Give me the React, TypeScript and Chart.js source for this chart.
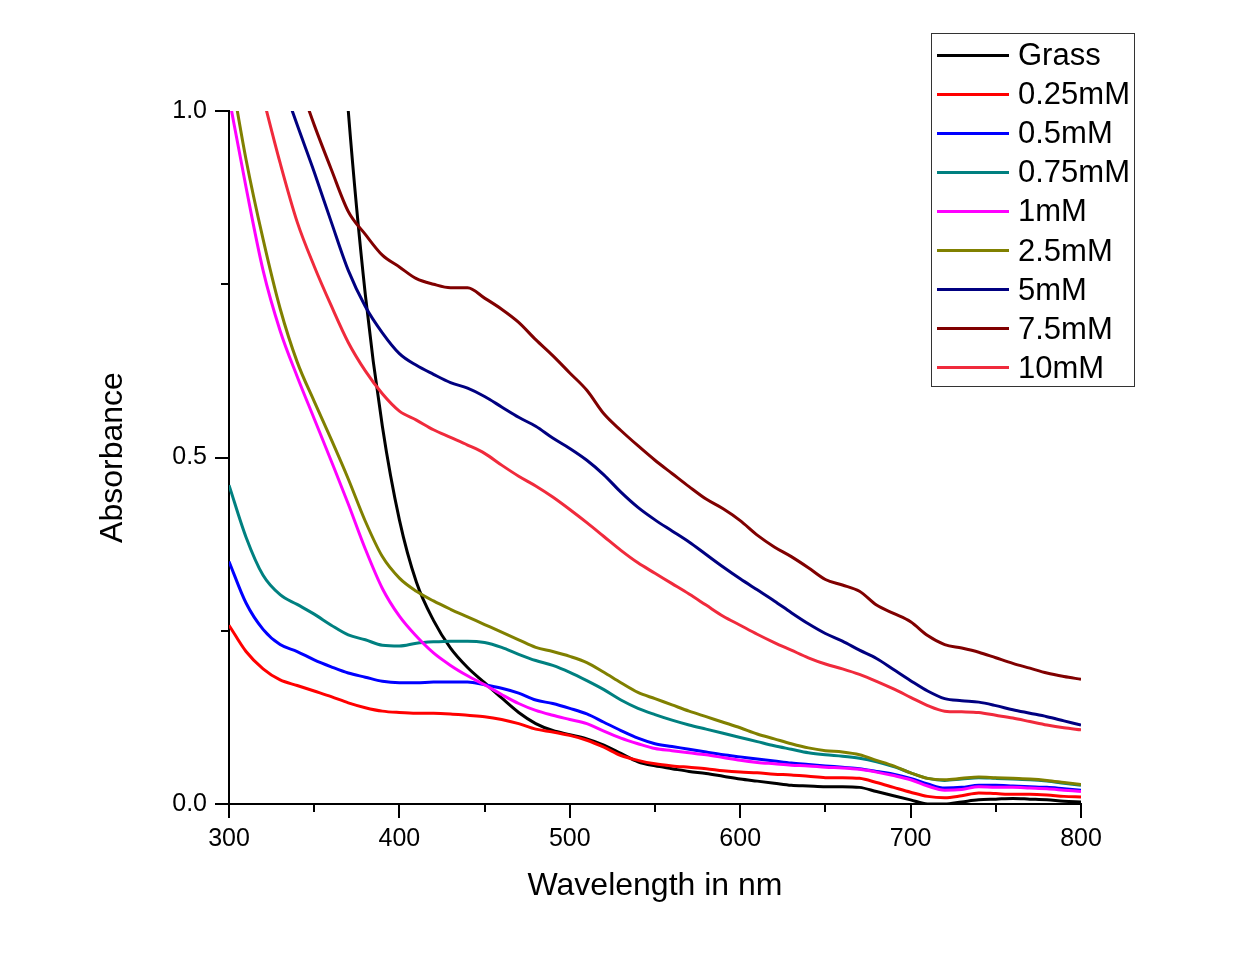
import React, { useEffect, useRef } from "react";
import { Chart, registerables } from "chart.js";

Chart.register(...registerables);

const FONT = "'Liberation Sans', Arial, Helvetica, sans-serif";

const wavelengths = [
  300, 310, 320, 330, 340, 350, 360, 370, 380, 390, 400,
  410, 420, 430, 440, 450, 460, 470, 480, 490, 500,
  510, 520, 530, 540, 550, 560, 570, 580, 590, 600,
  610, 620, 630, 640, 650, 660, 670, 680, 690, 700,
  710, 720, 730, 740, 750, 760, 770, 780, 790, 800,
];

const grass = [
  null, null, null, null, null, null, 1.35, 1.0, 0.735, 0.545, 0.41,
  0.32, 0.265, 0.225, 0.197, 0.175, 0.153, 0.132, 0.116, 0.106, 0.1,
  0.094, 0.085, 0.073, 0.061, 0.055, 0.051, 0.047, 0.044, 0.04, 0.036,
  0.033, 0.03, 0.027, 0.026, 0.025, 0.025, 0.024, 0.018, 0.012, 0.006,
  0.0, 0.0, 0.003, 0.006, 0.007, 0.008, 0.007, 0.006, 0.004, 0.003,
];
const mM025 = [
  0.258, 0.22, 0.195, 0.179, 0.171, 0.163, 0.155, 0.146, 0.139, 0.134, 0.132,
  0.131, 0.131, 0.13, 0.128, 0.126, 0.122, 0.116, 0.108, 0.104, 0.099,
  0.092, 0.082, 0.07, 0.063, 0.058, 0.055, 0.053, 0.051, 0.048, 0.046,
  0.045, 0.043, 0.042, 0.04, 0.038, 0.038, 0.037, 0.031, 0.024, 0.017,
  0.011, 0.009, 0.012, 0.016, 0.015, 0.014, 0.014, 0.013, 0.011, 0.01,
];
const mM05 = [
  0.35, 0.29, 0.252, 0.23, 0.22, 0.208, 0.198, 0.189, 0.183, 0.177, 0.175,
  0.175, 0.176, 0.176, 0.176, 0.172, 0.167, 0.16, 0.15, 0.145, 0.138,
  0.13, 0.118, 0.106, 0.095, 0.087, 0.083, 0.079, 0.075, 0.071, 0.068,
  0.065, 0.062, 0.059, 0.057, 0.055, 0.053, 0.051, 0.047, 0.043, 0.037,
  0.029, 0.023, 0.024, 0.027, 0.027, 0.026, 0.025, 0.024, 0.022, 0.02,
];
const mM075 = [
  0.46, 0.385, 0.33, 0.302, 0.288, 0.274, 0.258, 0.244, 0.237, 0.229, 0.228,
  0.232, 0.234, 0.235, 0.235, 0.233, 0.226, 0.216, 0.207, 0.2, 0.19,
  0.178, 0.165, 0.15, 0.138, 0.129, 0.121, 0.114, 0.108, 0.102, 0.096,
  0.09, 0.084, 0.079, 0.074, 0.071, 0.069, 0.066, 0.061, 0.054, 0.045,
  0.037, 0.034, 0.036, 0.038, 0.037, 0.036, 0.035, 0.033, 0.03, 0.027,
];
const mM1 = [
  1.02, 0.89, 0.77, 0.683, 0.617, 0.556, 0.495, 0.433, 0.368, 0.311, 0.271,
  0.242, 0.218, 0.2, 0.185, 0.172, 0.158, 0.145, 0.135, 0.128, 0.122,
  0.116, 0.105, 0.095, 0.087, 0.08, 0.077, 0.074, 0.071, 0.067, 0.063,
  0.06, 0.058, 0.056, 0.055, 0.053, 0.052, 0.05, 0.046, 0.041, 0.035,
  0.026, 0.02, 0.021, 0.025, 0.024, 0.024, 0.023, 0.022, 0.02, 0.018,
];
const mM25 = [
  1.07, 0.93, 0.815, 0.715, 0.638, 0.581, 0.526, 0.469, 0.408, 0.357, 0.326,
  0.307, 0.293, 0.281, 0.27, 0.259, 0.248, 0.237, 0.226, 0.22, 0.213,
  0.204, 0.19, 0.175, 0.161, 0.152, 0.143, 0.134, 0.126, 0.118, 0.11,
  0.101, 0.094, 0.087, 0.081, 0.077, 0.075, 0.071, 0.063, 0.055, 0.045,
  0.037, 0.035, 0.037, 0.039, 0.038, 0.037, 0.036, 0.034, 0.031, 0.028,
];
const mM5 = [
  null, null, null, 1.05, 0.98, 0.912, 0.84, 0.77, 0.718, 0.68, 0.65,
  0.633, 0.62, 0.608, 0.6, 0.588, 0.573, 0.558, 0.545, 0.528, 0.513,
  0.496, 0.475, 0.45, 0.428, 0.41, 0.394, 0.378, 0.36, 0.342, 0.325,
  0.309, 0.293, 0.276, 0.26, 0.246, 0.235, 0.222, 0.21, 0.194, 0.178,
  0.163, 0.152, 0.149, 0.147, 0.142, 0.136, 0.131, 0.126, 0.12, 0.114,
];
const mM75 = [
  null, null, null, null, 1.05, 0.98, 0.916, 0.855, 0.822, 0.792, 0.775,
  0.758, 0.75, 0.745, 0.745, 0.73, 0.714, 0.695, 0.67, 0.647, 0.622,
  0.597, 0.563, 0.539, 0.517, 0.496, 0.477, 0.458, 0.44, 0.426, 0.409,
  0.388, 0.371, 0.357, 0.341, 0.324, 0.316, 0.307, 0.287, 0.275, 0.263,
  0.243, 0.23, 0.225, 0.219, 0.211, 0.203, 0.196, 0.189, 0.184, 0.18,
];
const mM10 = [
  null, 1.12, 1.02, 0.925, 0.84, 0.776, 0.719, 0.666, 0.625, 0.592, 0.567,
  0.554, 0.54, 0.529, 0.518, 0.506, 0.489, 0.473, 0.459, 0.443, 0.425,
  0.406, 0.386, 0.366, 0.348, 0.333, 0.318, 0.303, 0.287, 0.271, 0.258,
  0.245, 0.233, 0.222, 0.211, 0.202, 0.195, 0.187, 0.177, 0.166, 0.154,
  0.142, 0.134, 0.133, 0.132, 0.128, 0.124, 0.119, 0.114, 0.11, 0.107,
];

const seriesLabels = ["Grass", "0.25mM", "0.5mM", "0.75mM", "1mM", "2.5mM", "5mM", "7.5mM", "10mM"];
const seriesValues = [grass, mM025, mM05, mM075, mM1, mM25, mM5, mM75, mM10];
const seriesColors = ["#000000", "#ff0000", "#0000ff", "#008080", "#ff00ff", "#808000", "#000080", "#800000", "#f02a3c"];

const xMajorStep = 100;
const yMajorStep = 0.5;
const xMinorTicks = [350, 450, 550, 650, 750];
const yMinorTicks = [0.25, 0.75];

const minorTickPlugin = {
  id: "minorTicks",
  afterDraw(chart: any) {
    const { ctx, chartArea } = chart;
    const xs = chart.scales.x;
    const ys = chart.scales.y;
    ctx.save();
    ctx.strokeStyle = "#000";
    ctx.lineWidth = 2;
    xMinorTicks.forEach((v) => {
      const px = Math.round(xs.getPixelForValue(v));
      ctx.beginPath();
      ctx.moveTo(px, chartArea.bottom);
      ctx.lineTo(px, chartArea.bottom + 8);
      ctx.stroke();
    });
    yMinorTicks.forEach((v) => {
      const py = Math.round(ys.getPixelForValue(v));
      ctx.beginPath();
      ctx.moveTo(chartArea.left, py);
      ctx.lineTo(chartArea.left - 8, py);
      ctx.stroke();
    });
    ctx.restore();
  },
};

export default function App() {
  const canvasRef = useRef<HTMLCanvasElement | null>(null);

  useEffect(() => {
    document.body.style.margin = "0";
    document.body.style.background = "#ffffff";
    const canvas = canvasRef.current;
    if (!canvas) return;
    const datasets = seriesLabels.map((label, i) => ({
      label,
      data: wavelengths.map((w, j) => ({ x: w, y: seriesValues[i][j] })),
      borderColor: seriesColors[i],
      backgroundColor: seriesColors[i],
      borderWidth: 3,
      pointRadius: 0,
      fill: false,
      cubicInterpolationMode: "monotone" as const,
      order: seriesLabels.length - i,
    }));
    const chart = new Chart(canvas, {
      type: "line",
      data: { datasets },
      plugins: [minorTickPlugin],
      options: {
        responsive: false,
        animation: false,
        maintainAspectRatio: false,
        layout: { padding: { top: 111, right: 160, left: 0, bottom: 0 } },
        plugins: { legend: { display: false }, tooltip: { enabled: false } },
        scales: {
          x: {
            type: "linear",
            min: 300,
            max: 800,
            afterFit: (s: any) => {
              s.height = 153;
            },
            ticks: {
              stepSize: xMajorStep,
              color: "#000",
              font: { family: FONT, size: 25 },
              padding: 6,
              maxRotation: 0,
            },
            grid: {
              drawOnChartArea: false,
              tickLength: 14,
              lineWidth: 2,
              tickWidth: 2,
              tickColor: "#000",
            },
            border: { display: true, color: "#000", width: 2 },
            title: {
              display: true,
              text: "Wavelength in nm",
              color: "#000",
              font: { family: FONT, size: 32 },
              padding: { top: 0, bottom: 52 },
            },
          },
          y: {
            type: "linear",
            min: 0,
            max: 1,
            afterFit: (s: any) => {
              s.width = 229;
            },
            ticks: {
              stepSize: yMajorStep,
              color: "#000",
              font: { family: FONT, size: 25 },
              padding: 8,
              callback: (v: any) => Number(v).toFixed(1),
            },
            grid: {
              drawOnChartArea: false,
              tickLength: 14,
              lineWidth: 2,
              tickWidth: 2,
              tickColor: "#000",
            },
            border: { display: true, color: "#000", width: 2 },
            title: {
              display: true,
              text: "Absorbance",
              color: "#000",
              font: { family: FONT, size: 32 },
              padding: { top: 94, bottom: 0 },
            },
          },
        },
      },
    });
    return () => chart.destroy();
  }, []);

  const rowCenter0 = 55;
  const rowStep = 39.1;

  return (
    <div style={{ position: "relative", width: 1241, height: 957, background: "#fff" }}>
      <canvas ref={canvasRef} width={1241} height={957} style={{ display: "block" }} />
      <div
        style={{
          position: "absolute",
          left: 931,
          top: 33,
          width: 204,
          height: 354,
          boxSizing: "border-box",
          border: "1.5px solid #333",
          background: "#fff",
        }}
      />
      {seriesLabels.map((label, i) => (
        <div
          key={label}
          style={{
            position: "absolute",
            left: 937,
            top: rowCenter0 + rowStep * i - 20,
            height: 40,
            display: "flex",
            alignItems: "center",
            fontFamily: FONT,
            fontSize: 31,
            color: "#000",
            whiteSpace: "nowrap",
          }}
        >
          <span style={{ display: "inline-block", width: 72, height: 3, background: seriesColors[i], marginRight: 9 }} />
          <span>{label}</span>
        </div>
      ))}
    </div>
  );
}
